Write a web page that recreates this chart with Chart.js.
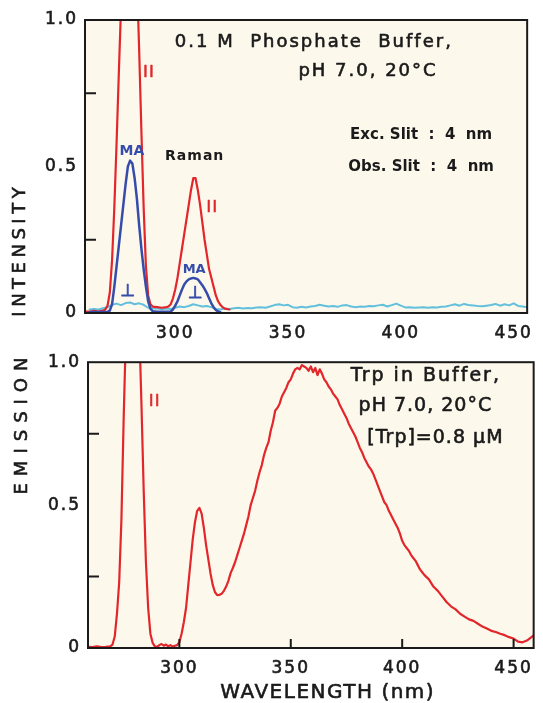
<!DOCTYPE html>
<html>
<head>
<meta charset="utf-8">
<script src="https://cdn.jsdelivr.net/npm/chart.js@4.4.1/dist/chart.umd.min.js"></script>
<style>
html,body{margin:0;padding:0;background:#ffffff;}
#wrap{position:relative;width:543px;height:703px;overflow:hidden;}
#c1{position:absolute;left:0;top:0;}
#c2{position:absolute;left:0;top:345px;}
</style>
</head>
<body>
<div id="wrap">
<canvas id="c1" width="543" height="345"></canvas>
<canvas id="c2" width="543" height="358"></canvas>
</div>
<script>
// ---------------- DATA ----------------
// Top panel: 0.1 M phosphate buffer, parallel (II) polarisation
const topParallelNm  = [260,262,264,266,268,269,270,271,272,273,274,275,276,277,278,279,280,281,282,283,284,285,286,287,288,289,290,292,294,296,297,298,299,300,301,302,303,304,305,306,307,308,309,310,311,312,313,314,315,316,317,318,319,320,321,322,324];
const topParallelVal = [0.006,0.004,0.007,0.005,0.008,0.012,0.025,0.07,0.18,0.36,0.58,0.82,1.05,1.3,1.5,1.62,1.65,1.58,1.4,1.15,0.9,0.62,0.36,0.16,0.06,0.03,0.022,0.02,0.018,0.02,0.022,0.03,0.05,0.08,0.12,0.17,0.22,0.27,0.32,0.37,0.42,0.46,0.46,0.42,0.37,0.31,0.25,0.2,0.15,0.12,0.09,0.06,0.04,0.028,0.02,0.015,0.012];

// Top panel: magic angle (MA)
const topMagicNm  = [262,266,270,271,272,273,274,275,276,277,278,279,280,281,282,283,284,285,286,287,288,289,290,292,294,296,298,299,300,301,302,303,304,305,306,307,308,309,310,311,312,313,314,315,316,317,318,319,320];
const topMagicVal = [0.003,0.003,0.004,0.008,0.03,0.09,0.16,0.23,0.3,0.37,0.44,0.5,0.52,0.51,0.46,0.39,0.3,0.22,0.15,0.09,0.04,0.015,0.006,0.004,0.004,0.004,0.005,0.012,0.025,0.04,0.06,0.08,0.097,0.108,0.115,0.118,0.12,0.118,0.115,0.105,0.095,0.082,0.068,0.05,0.033,0.02,0.01,0.005,0.003];

// Top panel: perpendicular polarisation
const topPerpNm  = [262,264,266,268,270,272,274,276,278,280,282,284,286,288,290,292,294,296,298,300,302,304,306,308,310,312,314,316,318,320,322,324,326,328,330,332,334,336,338,340,342,344,346,348,350,352,354,356,358,360,362,364,366,368,370,372,374,376,378,380,382,384,386,388,390,392,394,396,398,400,402,404,406,408,410,412,414,416,418,420,422,424,426,428,430,432,434,436,438,440,442,444,446,448,450,452,454,456];
const topPerpVal = [0.012,0.014,0.012,0.016,0.02,0.028,0.032,0.027,0.034,0.036,0.03,0.033,0.028,0.018,0.015,0.016,0.013,0.015,0.014,0.018,0.022,0.02,0.024,0.03,0.026,0.022,0.024,0.02,0.014,0.012,0.015,0.014,0.016,0.018,0.015,0.017,0.016,0.019,0.02,0.018,0.022,0.027,0.03,0.026,0.028,0.02,0.018,0.021,0.019,0.022,0.024,0.028,0.025,0.022,0.024,0.021,0.026,0.027,0.022,0.02,0.022,0.021,0.024,0.023,0.026,0.028,0.022,0.027,0.032,0.025,0.019,0.02,0.018,0.019,0.02,0.018,0.02,0.019,0.021,0.022,0.026,0.03,0.025,0.031,0.027,0.026,0.024,0.023,0.025,0.027,0.031,0.025,0.03,0.026,0.033,0.024,0.022,0.02];

// Bottom panel: Trp in buffer, emission (II)
const trpNm  = [259,261,263,265,267,269,270,271,272,273,274,275,276,277,278,279,280,281,282,283,284,285,286,287,288,289,290,291,292,293,294,295,296,297,298,299,300,301,302,303,304,305,306,307,308,309,310,311,312,313,314,315,316,317,318,319,320,321,322,323,324,325,326,327,328,329,330,331,332,333,334,335,336,337,338,339,340,341,342,343,344,345,346,347,348,349,350,351,352,353,354,355,356,357,358,359,360,361,362,363,364,365,366,367,368,369,370,371,372,373,374,375,376,377,378,379,380,381,382,383,384,385,386,387,388,389,390,391,392,393,394,395,396,397,398,399,400,401,402,403,404,405,406,407,408,409,410,412,414,416,418,420,422,424,426,428,430,432,434,436,438,440,442,444,446,448,450,452,454,456,458,459];
const trpVal = [0.004,0.003,0.006,0.003,0.004,0.006,0.012,0.04,0.12,0.23,0.45,0.8,1.1,1.35,1.5,1.55,1.5,1.35,1.12,0.85,0.55,0.3,0.14,0.05,0.018,0.006,0.004,0.01,0.014,0.008,0.012,0.006,0.01,0.005,0.008,0.01,0.02,0.05,0.09,0.14,0.22,0.3,0.38,0.44,0.48,0.49,0.47,0.42,0.36,0.31,0.26,0.22,0.195,0.185,0.186,0.19,0.2,0.215,0.235,0.262,0.28,0.3,0.325,0.35,0.375,0.4,0.43,0.46,0.5,0.525,0.55,0.585,0.615,0.64,0.675,0.7,0.72,0.76,0.79,0.83,0.84,0.855,0.88,0.895,0.91,0.93,0.94,0.96,0.975,0.98,0.975,0.99,0.985,0.98,0.97,0.985,0.965,0.98,0.955,0.975,0.96,0.94,0.93,0.915,0.905,0.89,0.88,0.87,0.85,0.835,0.82,0.805,0.785,0.77,0.755,0.74,0.72,0.7,0.685,0.665,0.65,0.635,0.625,0.61,0.59,0.57,0.55,0.53,0.51,0.5,0.48,0.465,0.45,0.435,0.42,0.4,0.375,0.36,0.35,0.34,0.325,0.315,0.305,0.29,0.275,0.265,0.255,0.24,0.215,0.2,0.18,0.16,0.145,0.135,0.12,0.11,0.1,0.095,0.085,0.075,0.068,0.06,0.056,0.05,0.045,0.038,0.033,0.022,0.02,0.026,0.038,0.044];

// Ticks
const xTickValues = [300, 350, 400, 450];
const yTickValues = [0, 0.25, 0.5, 0.75, 1.0];
const yTickLabels = ['0', '', '0.5', '', '1.0'];
const yInnerTicks = [0.25, 0.75];

// ---------------- STYLE ----------------
const FONT = "'DejaVu Sans', sans-serif";
const RED = '#e2262b';
const BLUE = '#354cab';
const CYAN = '#62c0dc';
const INK = '#1a1a1a';
const PAPER = '#fdf8ec';

const toXY = (xs, ys) => xs.map((x, i) => ({ x, y: ys[i] }));

function drawText(ctx, text, x, y, o) {
  ctx.save();
  ctx.font = (o.bold ? 'bold ' : '') + o.size + 'px ' + FONT;
  const ls = o.ls || 0;
  ctx.letterSpacing = ls + 'px';
  ctx.fillStyle = o.color || INK;
  ctx.strokeStyle = o.color || INK;
  ctx.lineWidth = o.stroke || 0;
  ctx.lineJoin = 'round';
  ctx.textBaseline = 'middle';
  ctx.textAlign = 'left';
  const w = ctx.measureText(text).width - ls;
  ctx.translate(x, y);
  if (o.rotate) ctx.rotate(o.rotate);
  ctx.fillText(text, -w / 2, 0);
  if (o.stroke) ctx.strokeText(text, -w / 2, 0);
  ctx.restore();
}

function panelPlugin(cfg) {
  return {
    id: 'panel_' + cfg.name,
    beforeUpdate(chart) { chart.ctx.letterSpacing = '2px'; },
    beforeDraw(chart) {
      const { ctx, chartArea: a } = chart;
      ctx.letterSpacing = '2px';
      ctx.save();
      ctx.fillStyle = PAPER;
      ctx.fillRect(a.left, a.top, a.right - a.left, a.bottom - a.top);
      ctx.restore();
    },
    afterDraw(chart) {
      const { ctx, chartArea: a, scales } = chart;
      ctx.save();
      ctx.strokeStyle = INK;
      ctx.lineWidth = 2;
      ctx.strokeRect(a.left, a.top, a.right - a.left, a.bottom - a.top);
      ctx.beginPath();
      yInnerTicks.forEach(v => {
        const py = scales.y.getPixelForValue(v);
        ctx.moveTo(a.left, py); ctx.lineTo(a.left + 11, py);
      });
      if (cfg.xInnerTicks) {
        xTickValues.forEach(v => {
          const px = scales.x.getPixelForValue(v);
          ctx.moveTo(px, a.bottom); ctx.lineTo(px, a.bottom - 9);
        });
      }
      ctx.stroke();
      ctx.restore();
      cfg.notes.forEach(n => {
        drawText(ctx, n.t, scales.x.getPixelForValue(n.x), scales.y.getPixelForValue(n.y), n);
      });
      cfg.titles.forEach(n => drawText(ctx, n.t, n.px, n.py, n));
    }
  };
}

function scalesFor(xmin, xmax, xAxisHeight, yAxisWidth) {
  const tickFont = { family: FONT, size: 17 };
  return {
    x: {
      type: 'linear', min: xmin, max: xmax,
      afterBuildTicks: s => { s.ticks = xTickValues.map(v => ({ value: v })); },
      afterFit: s => { s.height = xAxisHeight; },
      ticks: { font: tickFont, color: INK, padding: 10, maxRotation: 0, autoSkip: false,
               textStrokeColor: INK, textStrokeWidth: 0.6,
               callback: v => String(v) },
      grid: { display: false, drawTicks: false },
      border: { display: false }
    },
    y: {
      type: 'linear', min: 0, max: 1,
      afterBuildTicks: s => { s.ticks = yTickValues.map(v => ({ value: v })); },
      afterFit: s => { s.width = yAxisWidth; },
      ticks: { font: tickFont, color: INK, padding: 7, autoSkip: false,
               textStrokeColor: INK, textStrokeWidth: 0.6,
               callback: (v, i) => yTickLabels[i] },
      grid: { display: false, drawTicks: false },
      border: { display: false }
    }
  };
}

const lineDs = (data, color, width) => ({
  data, borderColor: color, borderWidth: width, pointRadius: 0, tension: 0,
  fill: false, borderJoinStyle: 'round', borderCapStyle: 'round'
});

const commonOpts = {
  responsive: false, animation: false, events: [],
  plugins: { legend: { display: false }, tooltip: { enabled: false } }
};

// ---------------- TOP PANEL ----------------
const topNotes = [
  { t: '0.1 M  Phosphate  Buffer,', x: 361, y: 0.925, size: 18, ls: 2, stroke: 0.6 },
  { t: 'pH 7.0, 20°C', x: 385, y: 0.826, size: 18, ls: 2, stroke: 0.6 },
  { t: 'Exc. Slit  :  4  nm', x: 409, y: 0.608, size: 15, bold: true, ls: 0 },
  { t: 'Obs. Slit  :  4  nm', x: 409, y: 0.498, size: 15, bold: true, ls: 0 },
  { t: 'Raman', x: 308.4, y: 0.536, size: 14, bold: true, ls: 1 },
  { t: 'II', x: 288.1, y: 0.819, size: 15, ls: 1.5, color: RED, stroke: 0.6 },
  { t: 'II', x: 316.2, y: 0.358, size: 15, ls: 1.5, color: RED, stroke: 0.6 },
  { t: 'MA', x: 280.8, y: 0.553, size: 14, bold: true, ls: 0, color: BLUE },
  { t: '⊥', x: 279, y: 0.074, size: 17, ls: 0, color: BLUE, stroke: 0.8 },
  { t: 'MA', x: 308.4, y: 0.148, size: 13, bold: true, ls: 0, color: BLUE },
  { t: '⊥', x: 308.9, y: 0.067, size: 17, ls: 0, color: BLUE, stroke: 0.8 }
];
const topTitles = [
  { t: 'INTENSITY', px: 20, py: 252, size: 18, ls: 4.5, stroke: 0.6, rotate: -Math.PI / 2 }
];

new Chart(document.getElementById('c1'), {
  type: 'line',
  data: {
    datasets: [
      lineDs(toXY(topMagicNm, topMagicVal), BLUE, 2.5),
      lineDs(toXY(topParallelNm, topParallelVal), RED, 2.2),
      lineDs(toXY(topPerpNm, topPerpVal), CYAN, 2)
    ]
  },
  options: Object.assign({}, commonOpts, {
    layout: { padding: { top: 20, right: 5, left: 0, bottom: 0 }, autoPadding: false },
    scales: scalesFor(260, 456, 32, 85)
  }),
  plugins: [panelPlugin({ name: 'top', notes: topNotes, titles: topTitles, xInnerTicks: false })]
});

// ---------------- BOTTOM PANEL ----------------
const bottomNotes = [
  { t: 'Trp in Buffer,', x: 410.2, y: 0.953, size: 19, ls: 2, stroke: 0.6 },
  { t: 'pH 7.0, 20°C', x: 410.2, y: 0.845, size: 19, ls: 1, stroke: 0.6 },
  { t: '[Trp]=0.8 μM', x: 414.7, y: 0.734, size: 19, ls: 1, stroke: 0.6 },
  { t: 'II', x: 288.7, y: 0.859, size: 15, ls: 1.5, color: RED, stroke: 0.6 }
];
const bottomTitles = [
  { t: 'EMISSION', px: 22, py: 81, size: 18, ls: 7, stroke: 0.6, rotate: -Math.PI / 2 },
  { t: 'WAVELENGTH (nm)', px: 327, py: 348, size: 20, ls: 1.5, stroke: 0.6 }
];

new Chart(document.getElementById('c2'), {
  type: 'line',
  data: {
    datasets: [
      lineDs(toXY(trpNm, trpVal), RED, 2.2)
    ]
  },
  options: Object.assign({}, commonOpts, {
    layout: { padding: { top: 6, right: 4, left: 0, bottom: 0 }, autoPadding: false },
    scales: scalesFor(259, 459, 55, 88)
  }),
  plugins: [panelPlugin({ name: 'bottom', notes: bottomNotes, titles: bottomTitles, xInnerTicks: true })]
});
</script>
</body>
</html>
